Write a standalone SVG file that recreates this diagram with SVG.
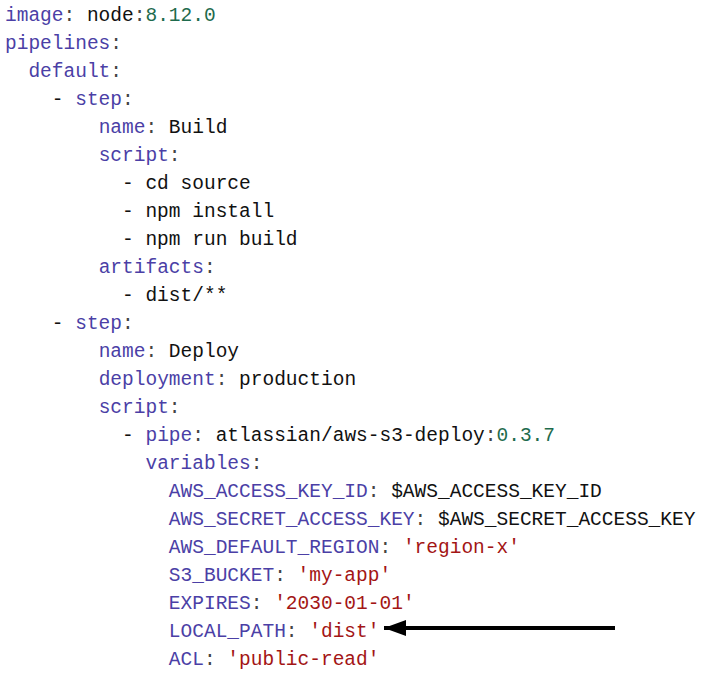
<svg xmlns="http://www.w3.org/2000/svg" width="714" height="682" viewBox="0 0 714 682">
<style>
text{font-family:"Liberation Mono","DejaVu Sans Mono",monospace;font-size:19.5px;fill:#111;white-space:pre}
.k{fill:#4b3fa6}.p{fill:#444}.s{fill:#a31515}.n{fill:#1e6b4d}
</style>
<defs><marker id="ah" markerWidth="5.5" markerHeight="4" refX="5.5" refY="2" orient="auto" markerUnits="strokeWidth"><path d="M0,0 L5.5,2 L0,4 Z" fill="#000"/></marker></defs>
<rect width="714" height="682" fill="#fff"/>
<g id="code" xml:space="preserve">
<text x="5" y="21"><tspan class="k">image</tspan><tspan class="p">:</tspan> node<tspan class="p">:</tspan><tspan class="n">8.12.0</tspan></text>
<text x="5" y="49"><tspan class="k">pipelines</tspan><tspan class="p">:</tspan></text>
<text x="5" y="77">  <tspan class="k">default</tspan><tspan class="p">:</tspan></text>
<text x="5" y="105">    - <tspan class="k">step</tspan><tspan class="p">:</tspan></text>
<text x="5" y="133">        <tspan class="k">name</tspan><tspan class="p">:</tspan> Build</text>
<text x="5" y="161">        <tspan class="k">script</tspan><tspan class="p">:</tspan></text>
<text x="5" y="189">          - cd source</text>
<text x="5" y="217">          - npm install</text>
<text x="5" y="245">          - npm run build</text>
<text x="5" y="273">        <tspan class="k">artifacts</tspan><tspan class="p">:</tspan></text>
<text x="5" y="301">          - dist/**</text>
<text x="5" y="329">    - <tspan class="k">step</tspan><tspan class="p">:</tspan></text>
<text x="5" y="357">        <tspan class="k">name</tspan><tspan class="p">:</tspan> Deploy</text>
<text x="5" y="385">        <tspan class="k">deployment</tspan><tspan class="p">:</tspan> production</text>
<text x="5" y="413">        <tspan class="k">script</tspan><tspan class="p">:</tspan></text>
<text x="5" y="441">          - <tspan class="k">pipe</tspan><tspan class="p">:</tspan> atlassian/aws-s3-deploy<tspan class="p">:</tspan><tspan class="n">0.3.7</tspan></text>
<text x="5" y="469">            <tspan class="k">variables</tspan><tspan class="p">:</tspan></text>
<text x="5" y="497">              <tspan class="k">AWS_ACCESS_KEY_ID</tspan><tspan class="p">:</tspan> $AWS_ACCESS_KEY_ID</text>
<text x="5" y="525">              <tspan class="k">AWS_SECRET_ACCESS_KEY</tspan><tspan class="p">:</tspan> $AWS_SECRET_ACCESS_KEY</text>
<text x="5" y="553">              <tspan class="k">AWS_DEFAULT_REGION</tspan><tspan class="p">:</tspan> <tspan class="s">'region-x'</tspan></text>
<text x="5" y="581">              <tspan class="k">S3_BUCKET</tspan><tspan class="p">:</tspan> <tspan class="s">'my-app'</tspan></text>
<text x="5" y="609">              <tspan class="k">EXPIRES</tspan><tspan class="p">:</tspan> <tspan class="s">'2030-01-01'</tspan></text>
<text x="5" y="637">              <tspan class="k">LOCAL_PATH</tspan><tspan class="p">:</tspan> <tspan class="s">'dist'</tspan></text>
<text x="5" y="665">              <tspan class="k">ACL</tspan><tspan class="p">:</tspan> <tspan class="s">'public-read'</tspan></text>
</g>
<g id="connectors">
<line x1="615" y1="628" x2="384" y2="628" stroke="#000" stroke-width="4" marker-end="url(#ah)"/>
</g>
</svg>
